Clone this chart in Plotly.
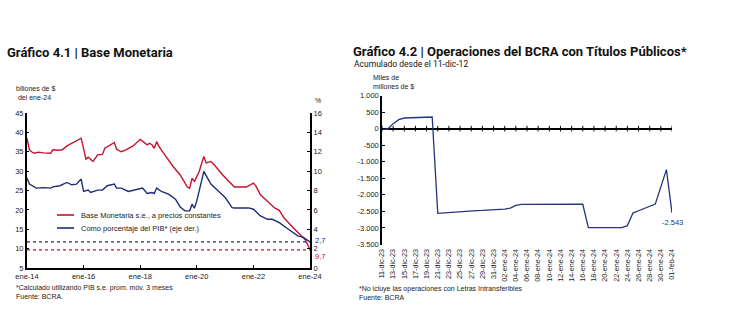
import plotly.graph_objects as go
import pandas as pd

W, H = 730, 325

# ---------------- Gráfico 4.1 data ----------------
bm_dates = ["2014-01", "2014-02", "2014-03", "2014-04", "2014-06", "2014-08", "2014-11", "2014-12",
            "2015-02", "2015-04", "2015-06", "2015-09", "2015-12", "2016-02", "2016-03", "2016-05",
            "2016-07", "2016-09", "2016-10", "2017-02", "2017-03", "2017-05", "2017-07", "2017-10",
            "2018-01", "2018-04", "2018-05", "2018-06", "2018-07", "2018-08", "2018-09", "2018-11",
            "2019-03", "2019-06", "2019-09", "2019-10", "2019-11", "2019-12", "2020-02", "2020-04",
            "2020-05", "2020-07", "2020-09", "2020-12", "2021-03", "2021-05", "2021-10", "2022-01",
            "2022-02", "2022-04", "2022-07", "2022-10", "2022-12", "2023-02", "2023-06", "2023-09",
            "2023-11", "2024-01"]
bm_vals = [38.5, 35.5, 35.0, 34.6, 34.9, 34.7, 34.6, 35.5,
           35.4, 35.5, 36.5, 37.4, 38.5, 33.1, 33.6, 32.5,
           34.2, 34.3, 35.9, 37.4, 35.7, 35.0, 35.5, 36.5,
           38.2, 36.8, 37.2, 36.8, 35.9, 37.6, 36.3, 34.6,
           31.2, 29.0, 25.9, 25.6, 28.2, 27.3, 29.9, 33.8,
           32.1, 32.5, 31.2, 29.0, 27.3, 25.9, 25.9, 26.9,
           26.2, 23.9, 22.2, 20.5, 19.9, 17.9, 15.3, 13.6,
           12.3, 9.7]

pib_dates = ["2014-01", "2014-02", "2014-05", "2014-08", "2014-11", "2014-12", "2015-03", "2015-06",
             "2015-08", "2015-10", "2015-12", "2016-01", "2016-03", "2016-04", "2016-07", "2016-09",
             "2016-11", "2017-02", "2017-03", "2017-05", "2017-08", "2017-10", "2018-02", "2018-04",
             "2018-06", "2018-07", "2018-08", "2018-10", "2019-01", "2019-04", "2019-06", "2019-08",
             "2019-10", "2019-11", "2019-12", "2020-01", "2020-02", "2020-04", "2020-05", "2020-07",
             "2020-10", "2021-01", "2021-04", "2021-05", "2021-11", "2022-01", "2022-04", "2022-07",
             "2022-09", "2022-12", "2023-03", "2023-06", "2023-08", "2023-10", "2024-01"]
pib_vals = [9.3, 8.66, 8.25, 8.3, 8.25, 8.38, 8.49, 8.83,
            8.59, 8.66, 9.18, 7.9, 8.04, 7.79, 8.04, 8.04,
            8.49, 8.66, 8.25, 8.25, 7.9, 8.04, 8.25, 7.69,
            7.79, 7.69, 8.25, 7.9, 7.63, 7.1, 6.3, 5.9,
            5.9, 6.59, 6.17, 6.93, 7.97, 9.97, 9.53, 8.66,
            7.97, 7.27, 6.23, 6.2, 6.2, 6.07, 5.37, 5.03,
            5.03, 4.68, 4.16, 3.64, 3.29, 3.19, 2.7]

bm_name = "Base Monetaria s.e., a precios constantes"
pib_name = "Como porcentaje del PIB* (eje der.)"

left_xtick_vals = ["2014-01-01", "2016-01-01", "2018-01-01", "2020-01-01", "2022-01-01", "2024-01-01"]
left_xtick_text = ["ene-14", "ene-16", "ene-18", "ene-20", "ene-22", "ene-24"]

# ---------------- Gráfico 4.2 data ----------------
meses = {12: "dic", 1: "ene", 2: "feb"}
ops_days = pd.date_range("2023-12-11", "2024-02-01", freq="D")
ops_cats = [f"{d.day:02d}-{meses[d.month]}-{d.strftime('%y')}" for d in ops_days]
ops_vals = [-20, -20, 150, 270, 320, 325, 325, 325, 340, 350,
            -2560, -2545, -2530, -2515, -2500, -2490, -2480, -2475, -2470, -2465,
            -2460, -2450, -2430, -2400, -2320, -2290, -2290, -2290, -2290, -2290,
            -2290, -2290, -2290, -2290, -2285, -2285, -2285, -2990, -2990, -2990,
            -2990, -2990, -2990, -2990, -2930, -2550, -2480, -2420, -2350, -2280,
            -1760, -1240, -2543]
right_ytick_vals = [1000, 500, 0, -500, -1000, -1500, -2000, -2500, -3000, -3500]
right_ytick_text = ["1.000", "500", "0", "-500", "-1.000", "-1.500", "-2.000", "-2.500", "-3.000", "-3.500"]

RED = "#C4122F"
BLUE = "#1F2C78"
NAVY = "#24347E"
SMALL = "Liberation Sans, Arial"
TICKF = dict(family=SMALL, size=7.5, color="#222222")


def px(x):
    return x / W


def py(y):
    return 1 - y / H


fig = go.Figure()

# Left chart lines
fig.add_trace(go.Scatter(x=bm_dates, y=bm_vals, mode="lines", name=bm_name,
                         line=dict(color=RED, width=1.4), xaxis="x", yaxis="y"))
fig.add_trace(go.Scatter(x=pib_dates, y=pib_vals, mode="lines", name=pib_name,
                         line=dict(color=BLUE, width=1.4), xaxis="x", yaxis="y3"))
# dotted reference lines at last values
fig.add_trace(go.Scatter(x=[bm_dates[0], bm_dates[-1]], y=[bm_vals[-1]] * 2, mode="lines",
                         line=dict(color=RED, width=1.3, dash="dot"), xaxis="x", yaxis="y", hoverinfo="skip"))
fig.add_trace(go.Scatter(x=[pib_dates[0], pib_dates[-1]], y=[pib_vals[-1]] * 2, mode="lines",
                         line=dict(color=BLUE, width=1.3, dash="dot"), xaxis="x", yaxis="y3", hoverinfo="skip"))

# Right chart
fig.add_trace(go.Scatter(x=ops_cats, y=ops_vals, mode="lines",
                         line=dict(color=NAVY, width=1.3), xaxis="x2", yaxis="y2"))
# tick marks on the zero line (every labelled category)
fig.add_trace(go.Scatter(x=ops_cats[::2], y=[0] * len(ops_cats[::2]), mode="markers",
                         marker=dict(symbol="line-ns-open", size=4, color="black",
                                     line=dict(color="black", width=1)),
                         xaxis="x2", yaxis="y2", hoverinfo="skip"))

ann = []


def note(text, x, y, size=7, color="#222222", family=SMALL, xanchor="left", **kw):
    ann.append(dict(text=text, x=px(x), y=py(y), xref="paper", yref="paper", xanchor=xanchor,
                    yanchor="middle", showarrow=False, align="left",
                    font=dict(family=family, size=size, color=color), **kw))


note("<b>Gráfico 4.1 | Base Monetaria</b>", 5, 52, size=13, color="#111111", family="Roboto, Arial")
note("<b>Gráfico 4.2 | Operaciones del BCRA con Títulos Públicos*</b>", 351, 51, size=13, color="#111111",
     family="Roboto, Arial")
note("Acumulado desde el 11-dic-12", 352, 64, size=8.5, color="#111111", family="Roboto, Arial")
note("billones de $<br> del ene-24", 14, 93)
note("%", 318, 100, xanchor="center")
note("Miles de<br>millones de $", 371, 82)
note("*Calculado utilizando PIB s.e. prom. móv. 3 meses<br>Fuente: BCRA.", 14, 292)
note("*No icluye las operaciones con Letras Intransferibles<br>Fuente: BCRA", 357, 293)
# manual legend texts
note(bm_name, 79, 215, size=7.5)
note(pib_name, 79, 228, size=7.5)

# end labels
ann.append(dict(text=f"{pib_vals[-1]:.1f}".replace(".", ","), x=px(313), y=pib_vals[-1], xref="paper", yref="y3",
                xanchor="left", yanchor="middle", showarrow=False, yshift=1,
                font=dict(family=SMALL, size=7.5, color=BLUE)))
ann.append(dict(text=f"{bm_vals[-1]:.1f}".replace(".", ","), x=px(313), y=bm_vals[-1], xref="paper", yref="y",
                xanchor="left", yanchor="middle", showarrow=False, yshift=-7,
                font=dict(family=SMALL, size=7.5, color=RED)))
ann.append(dict(text=f"{ops_vals[-1]:,}".replace(",", "."), x=ops_cats[-1], y=ops_vals[-1], xref="x2", yref="y2",
                xanchor="center", yanchor="top", showarrow=False, yshift=-3,
                font=dict(family=SMALL, size=7.5, color=NAVY)))

# manual legend line samples
shapes = [
    dict(type="line", xref="paper", yref="paper", x0=px(57), x1=px(74), y0=py(215), y1=py(215),
         line=dict(color=RED, width=1.6)),
    dict(type="line", xref="paper", yref="paper", x0=px(57), x1=px(74), y0=py(228), y1=py(228),
         line=dict(color=BLUE, width=1.6)),
]

fig.update_layout(
    width=W, height=H,
    margin=dict(l=0, r=0, t=0, b=0, autoexpand=False),
    paper_bgcolor="white", plot_bgcolor="white",
    showlegend=False,
    xaxis=dict(domain=[px(27), px(310)], type="date", range=["2014-01-01", "2024-01-01"], automargin=False,
               tickvals=left_xtick_vals, ticktext=left_xtick_text, showgrid=False, zeroline=False,
               showline=True, linecolor="black", linewidth=1.5, ticks="inside", ticklen=3, tickcolor="black",
               tickfont=TICKF, anchor="y"),
    yaxis=dict(domain=[py(268), py(113)], range=[5, 45], dtick=5, showgrid=False, zeroline=False,
               automargin=False,
               showline=True, linecolor="black", linewidth=2, ticks="inside", ticklen=2, tickcolor="black",
               tickfont=TICKF, anchor="x"),
    yaxis3=dict(overlaying="y", side="right", range=[0, 16], dtick=2, showgrid=False, zeroline=False,
                automargin=False,
                showline=True, linecolor="black", linewidth=2, ticks="inside", ticklen=3, tickcolor="black",
                tickfont=TICKF, anchor="x"),
    xaxis2=dict(domain=[px(382), px(672)], type="category", range=[0, len(ops_cats) - 1], automargin=False,
                tickvals=ops_cats[::2], ticktext=ops_cats[::2], tickangle=-90, showgrid=False, zeroline=False,
                showline=False, ticks="", ticklabelstandoff=2,
                tickfont=dict(family=SMALL, size=7.2, color="#222222"),
                anchor="y2"),
    yaxis2=dict(domain=[py(244.5), py(95.5)], range=[-3500, 1000], tickvals=right_ytick_vals,
                automargin=False,
                ticktext=right_ytick_text, showgrid=False, zeroline=True, zerolinecolor="black", zerolinewidth=1.5,
                showline=True, linecolor="black", linewidth=1.5, ticks="inside", ticklen=3, tickcolor="black",
                tickfont=TICKF, anchor="x2"),
    annotations=ann,
    shapes=shapes,
)

fig.write_html("out.html")
